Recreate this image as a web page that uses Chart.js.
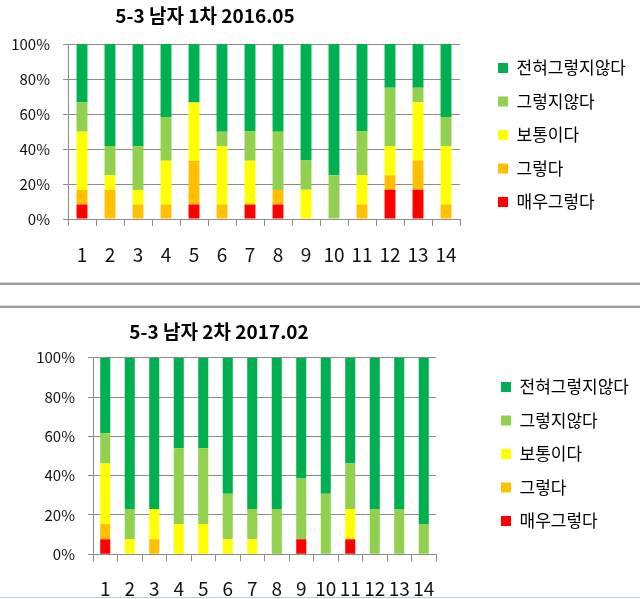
<!DOCTYPE html>
<html><head><meta charset="utf-8">
<script src="https://cdn.jsdelivr.net/npm/chart.js@4.4.1/dist/chart.umd.min.js"></script>
<style>
html,body{margin:0;padding:0;background:#fff;width:640px;height:599px;overflow:hidden;position:relative}
canvas{position:absolute;left:0}
#c1{top:0}
#c2{top:309px}
.sep{position:absolute;left:0;width:640px;height:2px;background:#9c9c9c;border-top:1px solid #dadada}
#bottomLine{position:absolute;left:0;top:597px;width:640px;height:1px;background:#b6cfe3}
</style></head><body>
<canvas id="c1" width="640" height="270"></canvas>
<div class="sep" style="top:282px"></div>
<div class="sep" style="top:305px"></div>
<canvas id="c2" width="640" height="290"></canvas>
<div id="bottomLine"></div>
<script>
// ---- data ----
const categories = ['1','2','3','4','5','6','7','8','9','10','11','12','13','14'];
const seriesNames = ['매우그렇다','그렇다','보통이다','그렇지않다','전혀그렇지않다'];

const title1 = '5-3 남자 1차 2016.05';
const chart1VeryAgree   = [8.3,0,0,0,8.3,0,8.3,8.3,0,0,0,16.7,16.7,0];
const chart1Agree       = [8.3,16.7,8.3,8.3,25,8.3,0,8.3,0,0,8.3,8.3,16.7,8.3];
const chart1Neutral     = [33.3,8.3,8.3,25,33.3,33.3,25,0,16.7,0,16.7,16.7,33.3,33.3];
const chart1Disagree    = [16.7,16.7,25,25,0,8.3,16.7,33.3,16.7,25,25,33.3,8.3,16.7];
const chart1StrongDis   = [33.3,58.3,58.3,41.7,33.3,50,50,50,66.7,75,50,25,25,41.7];

const title2 = '5-3 남자 2차 2017.02';
const chart2VeryAgree   = [7.7,0,0,0,0,0,0,0,7.7,0,7.7,0,0,0];
const chart2Agree       = [7.7,0,7.7,0,0,0,0,0,0,0,0,0,0,0];
const chart2Neutral     = [30.8,7.7,15.4,15.4,15.4,7.7,7.7,0,0,0,15.4,0,0,0];
const chart2Disagree    = [15.4,15.4,0,38.5,38.5,23.1,15.4,23.1,30.8,30.8,23.1,23.1,23.1,15.4];
const chart2StrongDis   = [38.5,76.9,76.9,46.2,46.2,69.2,76.9,76.9,61.5,69.2,53.8,76.9,76.9,84.6];

// ---- styles ----
const seriesColors = ['#FF0000','#FFC000','#FFFF00','#92D050','#00B050'];
const FONT = "'Noto Sans CJK KR','Noto Sans',sans-serif";
const GRID = '#8c8c8c';

function makeChart(id, titleText, series, L){
  const titleShift = {
    id: 'titleShift',
    afterLayout(chart){
      const t = chart.titleBlock;
      if (t) { t.left = L.titleCx - 200; t.right = L.titleCx + 200; t.width = 400; }
    }
  };
  return new Chart(document.getElementById(id), {
    type: 'bar',
    data: {
      labels: categories,
      datasets: series.map((d,i)=>({
        label: seriesNames[i], data: d, backgroundColor: seriesColors[i],
        borderWidth: 0, barPercentage: 1, categoryPercentage: L.catPct
      }))
    },
    options: {
      responsive: false, animation: false, devicePixelRatio: 1,
      layout: { padding: { left: 0, right: L.padRight, top: 0, bottom: 0 } },
      plugins: {
        tooltip: { enabled: false },
        title: { display: true, text: titleText, color: '#000',
          font: { family: FONT, size: 19, weight: 'bold' },
          padding: { top: L.titleTop, bottom: L.titleBottom } },
        legend: { position: 'right', reverse: true, maxWidth: 220,
          labels: { boxWidth: 10, boxHeight: 10, padding: 16.5, color: '#000',
            font: { family: FONT, size: 17 } } }
      },
      scales: {
        x: { stacked: true,
          grid: { display: true, drawOnChartArea: false, drawTicks: true, tickLength: 7, color: GRID },
          border: { display: true, color: GRID },
          ticks: { color: '#111', font: { family: FONT, size: 19 }, padding: L.xPad, maxRotation: 0, autoSkip: false },
          afterFit(s){ s.height = L.xHeight; } },
        y: { stacked: true, min: 0, max: 100,
          grid: { color: GRID, tickLength: 5 },
          border: { display: true, color: GRID },
          ticks: { stepSize: 20, color: '#111', padding: 13, font: { family: FONT, size: 15 },
            callback: v => v + '%' },
          afterFit(s){ s.width = L.yWidth; } },
        gap: { type: 'linear', position: 'right', display: true,
          grid: { display: false }, border: { display: false }, ticks: { display: false },
          afterFit(s){
            const lw = s.chart.legend ? s.chart.legend.width : 0;
            s.width = Math.max(0, s.chart.width - L.padRight - lw - L.plotRight);
          } }
      }
    },
    plugins: [titleShift]
  });
}

makeChart('c1', title1,
  [chart1VeryAgree, chart1Agree, chart1Neutral, chart1Disagree, chart1StrongDis],
  { catPct: 0.39, padRight: 4, titleTop: 4.6, titleBottom: 16.6, xHeight: 51, xPad: 17,
    yWidth: 68, plotRight: 460, titleCx: 205 });

makeChart('c2', title2,
  [chart2VeryAgree, chart2Agree, chart2Neutral, chart2Disagree, chart2StrongDis],
  { catPct: 0.41, padRight: 1, titleTop: 11.6, titleBottom: 14.3, xHeight: 44.7, xPad: 16,
    yWidth: 93, plotRight: 436, titleCx: 219 });
</script>
</body></html>
